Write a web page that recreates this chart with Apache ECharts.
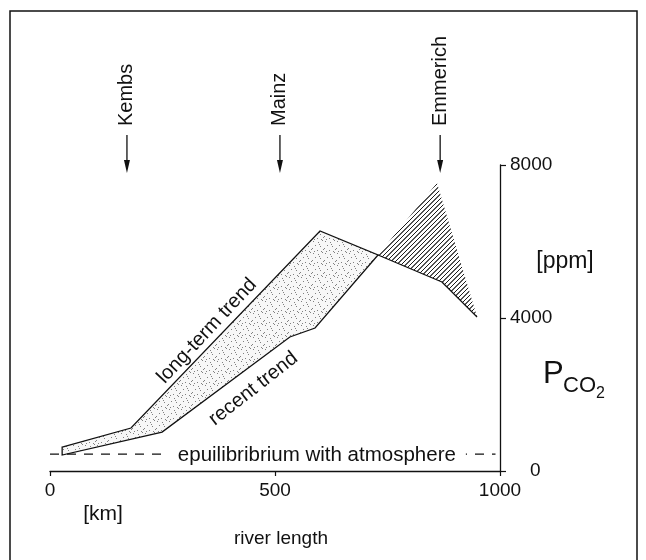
<!DOCTYPE html>
<html><head><meta charset="utf-8">
<script src="https://cdn.jsdelivr.net/npm/echarts@6/dist/echarts.min.js"></script>
<style>html,body{margin:0;padding:0;background:#fff}#c{width:646px;height:560px}</style>
</head><body><div id="c"></div>
<script>
// ---- data ----
const xTicks = [0, 500, 1000];            // river length [km]
const yTicks = [0, 4000, 8000];           // PCO2 [ppm]
const longTermKm  = [27, 180, 600, 729, 871, 949];
const longTermPpm = [627, 1124, 6274, 5647, 4941, 4026];
const recentKm  = [27, 249, 533, 589, 729, 860, 949];
const recentPpm = [418, 1019, 3503, 3738, 5647, 7529, 4026];
const equilibriumKm = [0, 990];
const equilibriumPpm = 440;
const cities = ['Kembs', 'Mainz', 'Emmerich'];
const cityKm = [171, 511, 867];

const FONT = 'Liberation Sans, Arial, Helvetica, sans-serif';
const lt = longTermKm.map((k, i) => [k, longTermPpm[i]]);
const rc = recentKm.map((k, i) => [k, recentPpm[i]]);
const crossIdxLt = 3, crossIdxRc = 4;

// stipple polygon: long-term up to crossing, back along recent
const stipplePts = lt.slice(0, crossIdxLt + 1).concat(rc.slice(0, crossIdxRc).reverse());
// hatched polygon: recent from crossing to end, back along long-term
const hatchPts = rc.slice(crossIdxRc).concat(lt.slice(crossIdxLt, lt.length - 1).reverse());

function stipplePattern() {
  const c = document.createElement('canvas'); c.width = 12; c.height = 12;
  const g = c.getContext('2d');
  g.fillStyle = '#f7f7f7'; g.fillRect(0, 0, 12, 12);
  g.fillStyle = 'rgba(90,90,90,0.75)';
  [[1,1],[6,2],[10,0],[3,5],[8,6],[11,9],[0,8],[5,10],[9,11],[2,11],[7,4]].forEach(p => g.fillRect(p[0], p[1], 1, 1));
  return c;
}
function hatchPattern() {
  const s = 9, c = document.createElement('canvas'); c.width = s; c.height = s;
  const g = c.getContext('2d');
  g.strokeStyle = '#1a1a1a'; g.lineWidth = 1;
  for (let k = -1; k <= 4; k++) {
    const cc = k * 4.5;
    g.beginPath(); g.moveTo(cc - s, s); g.lineTo(cc, 0);
    g.moveTo(cc, s); g.lineTo(cc + s, 0); g.stroke();
  }
  return c;
}

const chart = echarts.init(document.getElementById('c'), null, {renderer: 'canvas'});
const stip = stipplePattern(), hatch = hatchPattern();

chart.setOption({
  animation: false,
  backgroundColor: '#fff',
  grid: {left: 50, right: 146, top: 165, bottom: 89},
  xAxis: {
    type: 'value', min: xTicks[0], max: xTicks[2], interval: xTicks[1] - xTicks[0],
    axisLine: {show: true, onZero: false, lineStyle: {color: '#111', width: 1.3}},
    axisTick: {show: true, length: 5, lineStyle: {color: '#111', width: 1.2}},
    axisLabel: {fontFamily: FONT, fontSize: 19, color: '#111', margin: 10, formatter: v => String(v)},
    splitLine: {show: false}
  },
  yAxis: {
    type: 'value', position: 'right', min: yTicks[0], max: yTicks[2], interval: yTicks[1] - yTicks[0],
    axisLine: {show: true, onZero: false, lineStyle: {color: '#111', width: 1.3}},
    axisTick: {show: true, length: 6, lineStyle: {color: '#111', width: 1.2}},
    axisLabel: {
      fontFamily: FONT, fontSize: 19, color: '#111', margin: 10,
      formatter: v => v === 0 ? '{z|0}' : String(v),
      rich: {z: {fontFamily: FONT, fontSize: 19, color: '#111', padding: [0, 0, 0, 20]}}
    },
    splitLine: {show: false}
  },
  series: [
    {
      type: 'custom', data: [[0, 0]], silent: true, z: 1,
      renderItem: (p, api) => ({
        type: 'polygon',
        shape: {points: stipplePts.map(q => api.coord(q))},
        style: {fill: {image: stip, repeat: 'repeat'}, stroke: '#111', lineWidth: 1.3}
      })
    },
    {
      type: 'custom', data: [[0, 0]], silent: true, z: 1,
      renderItem: (p, api) => ({
        type: 'polygon',
        shape: {points: hatchPts.map(q => api.coord(q))},
        style: {fill: {image: hatch, repeat: 'repeat'}, stroke: null}
      })
    },
    {
      name: 'long-term trend', type: 'line', data: lt.slice(crossIdxLt), symbol: 'none', z: 3,
      lineStyle: {color: '#111', width: 1.3}
    },
    {
      name: 'equilibrium', type: 'line', data: equilibriumKm.map(k => [k, equilibriumPpm]), symbol: 'none', z: 2,
      lineStyle: {color: '#111', width: 1.3, type: [9, 8]}
    }
  ]
});

function px(k, v) { return chart.convertToPixel({gridIndex: 0}, [k, v]); }
const g = [];
// frame
g.push({type: 'polyline', z: 100, shape: {points: [[10, 600], [10, 11], [637, 11], [637, 600]]}, style: {stroke: '#111', lineWidth: 1.5, fill: null}});
// cities + arrows
cities.forEach((name, i) => {
  const x = px(cityKm[i], 0)[0];
  g.push({type: 'text', z: 100, x: x, y: 126, rotation: Math.PI / 2,
    style: {text: name, fontFamily: FONT, fontSize: 20, fill: '#111', align: 'left', verticalAlign: 'middle'}});
  g.push({type: 'line', z: 100, shape: {x1: x, y1: 135, x2: x, y2: 163}, style: {stroke: '#111', lineWidth: 1.3}});
  g.push({type: 'polygon', z: 100, shape: {points: [[x - 3, 160], [x + 3, 160], [x, 173]]}, style: {fill: '#111'}});
});
// equilibrium label
const eq = px(593, equilibriumPpm);
g.push({type: 'text', z: 100, x: eq[0], y: eq[1] + 1,
  style: {text: 'epuilibribrium with atmosphere', fontFamily: FONT, fontSize: 20.5, fill: '#111',
    align: 'center', verticalAlign: 'middle', backgroundColor: '#fff', padding: [1, 10]}});
// trend labels
const ltp = px(349, 3660);
g.push({type: 'text', z: 100, x: ltp[0], y: ltp[1], rotation: 47 * Math.PI / 180,
  style: {text: 'long-term trend', fontFamily: FONT, fontSize: 20, fill: '#111', align: 'center', verticalAlign: 'middle'}});
const rtp = px(452, 2150);
g.push({type: 'text', z: 100, x: rtp[0], y: rtp[1], rotation: 38 * Math.PI / 180,
  style: {text: 'recent trend', fontFamily: FONT, fontSize: 20, fill: '#111', align: 'center', verticalAlign: 'middle'}});
// unit labels
g.push({type: 'text', z: 100, x: 565, y: 262, style: {text: '[ppm]', fontFamily: FONT, fontSize: 23, fill: '#111', align: 'center', verticalAlign: 'middle'}});
g.push({type: 'text', z: 100, x: 543, y: 374, style: {text: 'P', fontFamily: FONT, fontSize: 31, fill: '#111', align: 'left', verticalAlign: 'middle'}});
g.push({type: 'text', z: 100, x: 563, y: 386, style: {text: 'CO', fontFamily: FONT, fontSize: 22, fill: '#111', align: 'left', verticalAlign: 'middle'}});
g.push({type: 'text', z: 100, x: 596, y: 394, style: {text: '2', fontFamily: FONT, fontSize: 16, fill: '#111', align: 'left', verticalAlign: 'middle'}});
g.push({type: 'text', z: 100, x: 103, y: 514, style: {text: '[km]', fontFamily: FONT, fontSize: 21, fill: '#111', align: 'center', verticalAlign: 'middle'}});
g.push({type: 'text', z: 100, x: 281, y: 539, style: {text: 'river length', fontFamily: FONT, fontSize: 19, fill: '#111', align: 'center', verticalAlign: 'middle'}});
chart.setOption({graphic: g});
</script></body></html>
